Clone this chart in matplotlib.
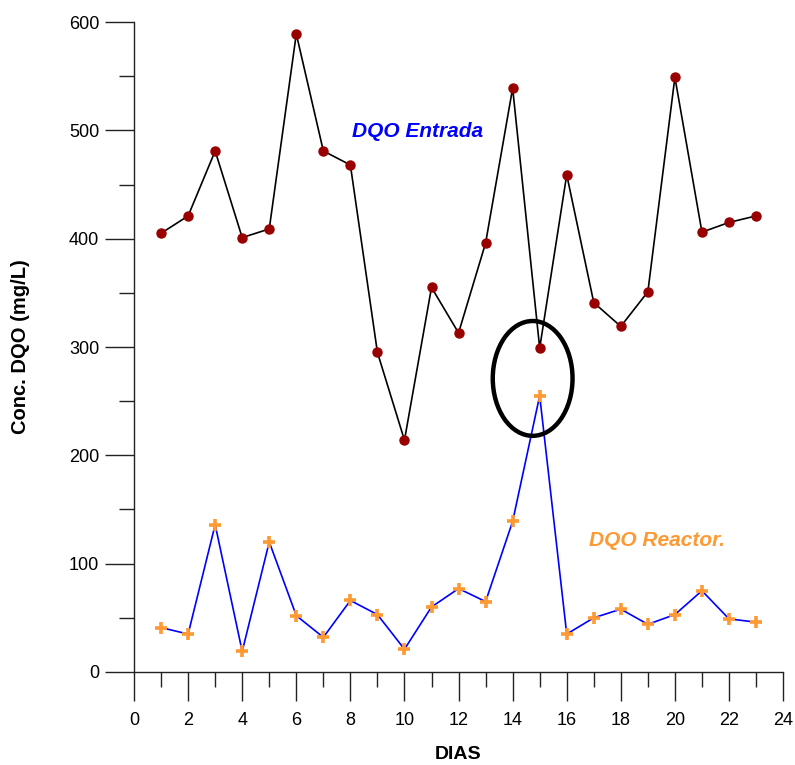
"""DQO entrada vs reactor por día."""
import matplotlib as mpl
import matplotlib.pyplot as plt
import numpy as np
from matplotlib.patches import Ellipse
from matplotlib.ticker import MultipleLocator

mpl.rcParams.update({
    "font.family": ["Liberation Sans", "DejaVu Sans"],
    "axes.spines.top": False, "axes.spines.right": False,
    "figure.facecolor": "white",
})

# ----- Data -----
dias = np.arange(1, 24)
dqo_entrada = [405, 421, 481, 401, 409, 589, 481, 468, 295, 214, 355, 313,
               396, 539, 299, 459, 341, 319, 351, 549, 406, 415, 421]
dqo_reactor = [41, 35, 136, 19, 120, 52, 32, 66, 53, 21, 60, 77,
               65, 139, 255, 35, 50, 58, 44, 53, 75, 49, 46]

C_ENT_LINE = "#000000"
C_ENT_MARK = "#990000"
C_REA_LINE = "#0000FF"
C_REA_MARK = "#FF9933"

fig = plt.figure(figsize=(7.95, 7.65), dpi=100)
ax = fig.add_axes([0.1686, 0.1216, 0.8164, 0.8496])

ax.plot(dias, dqo_entrada, color=C_ENT_LINE, lw=1.2, marker="o", ms=6.5,
        mfc=C_ENT_MARK, mec=C_ENT_MARK, zorder=3)
ax.plot(dias, dqo_reactor, color=C_REA_LINE, lw=1.2, marker="+", ms=8,
        mew=2.6, mec=C_REA_MARK, zorder=3)

ax.add_patch(Ellipse((14.74, 271), 2.95, 106, fill=False, lw=3.2,
                     ec="black", zorder=4))

ax.text(10.47, 499, "DQO Entrada", color="#0000FF", fontsize=15,
        fontweight="bold", fontstyle="italic", ha="center", va="center")
ax.text(19.34, 121, "DQO Reactor.", color=C_REA_MARK, fontsize=15,
        fontweight="bold", fontstyle="italic", ha="center", va="center")

ax.set_xlim(0, 24)
ax.set_ylim(0, 600)
ax.xaxis.set_major_locator(MultipleLocator(2))
ax.xaxis.set_minor_locator(MultipleLocator(1))
ax.yaxis.set_major_locator(MultipleLocator(100))
ax.yaxis.set_minor_locator(MultipleLocator(50))
ax.tick_params(which="major", length=21, width=1.0, labelsize=13,
               direction="out", pad=8, color="#222222")
ax.tick_params(which="minor", length=11, width=1.0, direction="out",
               color="#222222")
ax.tick_params(axis="y", which="major", pad=4)
for sp in ("left", "bottom"):
    ax.spines[sp].set_linewidth(1.0)
    ax.spines[sp].set_color("#222222")

ax.set_xlabel("DIAS", fontsize=14, fontweight="bold", labelpad=12)
ax.set_ylabel("Conc. DQO (mg/L)", fontsize=14.5, fontweight="bold",
              labelpad=28)

fig.savefig("out.png", dpi=100)
